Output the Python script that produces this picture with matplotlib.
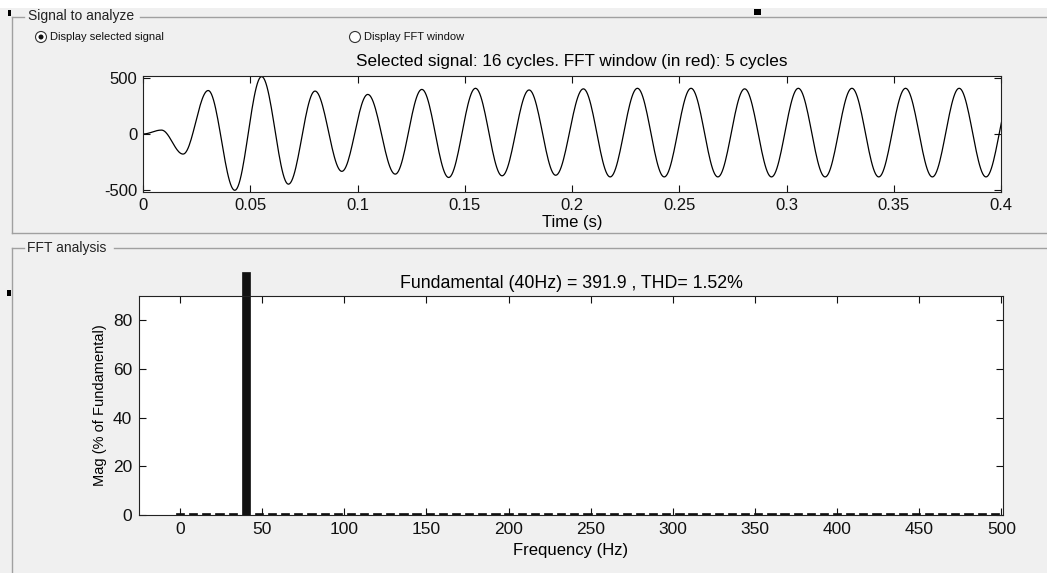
import numpy as np
import matplotlib
matplotlib.use("Agg")
import matplotlib.pyplot as plt
from matplotlib.lines import Line2D
from matplotlib.patches import Ellipse, Rectangle

plt.rcParams['font.family'] = ['Liberation Sans', 'DejaVu Sans']
plt.rcParams['axes.unicode_minus'] = False

# ---------------- data ----------------
# extrema of the selected signal (time in s, value)
sig_times = [0.0, 0.0086, 0.0187, 0.0304, 0.0428, 0.0553, 0.0678, 0.0802, 0.0927,
             0.1048, 0.1176, 0.1300, 0.1425, 0.1550, 0.1674, 0.1800, 0.1924,
             0.2053, 0.2178, 0.2305, 0.2430, 0.2555, 0.2680, 0.2805, 0.2930,
             0.3055, 0.3180, 0.3305, 0.3430, 0.3555, 0.3680, 0.3805, 0.3930, 0.4055]
sig_values = [0, 35, -180, 390, -505, 515, -450, 385, -335,
              355, -360, 400, -390, 410, -375, 395, -370,
              405, -385, 410, -385, 410, -385, 405, -385,
              410, -385, 410, -385, 410, -385, 410, -385, 410]

time_ticks = [0, 0.05, 0.1, 0.15, 0.2, 0.25, 0.3, 0.35, 0.4]
time_ticklabels = ['0', '0.05', '0.1', '0.15', '0.2', '0.25', '0.3', '0.35', '0.4']
sig_yticks = [-500, 0, 500]

# FFT spectrum (Hz, % of fundamental)
fft_freqs = [0, 8, 16, 24, 32, 40, 48, 56, 64, 72, 80, 88, 96, 104, 112, 120,
             128, 136, 144, 152, 160, 168, 176, 184, 192, 200, 208, 216, 224,
             232, 240, 248, 256, 264, 272, 280, 288, 296, 304, 312, 320, 328,
             336, 344, 352, 360, 368, 376, 384, 392, 400, 408, 416, 424, 432,
             440, 448, 456, 464, 472, 480, 488, 496]
fft_mags = [0.9, 0.9, 0.9, 0.9, 0.9, 100, 0.9, 0.9, 0.9, 0.9, 0.9, 0.9, 0.9, 0.9,
            0.9, 0.9, 0.9, 0.9, 0.9, 0.9, 0.9, 0.9, 0.9, 0.9, 0.9, 0.9, 0.9, 0.9,
            0.9, 0.9, 0.9, 0.9, 0.9, 0.9, 0.9, 0.9, 0.9, 0.9, 0.9, 0.9, 0.9, 0.9,
            0.9, 0.9, 0.9, 0.9, 0.9, 0.9, 0.9, 0.9, 0.9, 0.9, 0.9, 0.9, 0.9, 0.9,
            0.9, 0.9, 0.9, 0.9, 0.9, 0.9, 0.9]
freq_ticks = [0, 50, 100, 150, 200, 250, 300, 350, 400, 450, 500]
mag_ticks = [0, 20, 40, 60, 80]

# ---------------- figure ----------------
W, H = 1047, 573
BG = '#f0f0f0'
fig = plt.figure(figsize=(W / 100, H / 100), dpi=100, facecolor=BG)


def fx(x):
    return x / W


def fy(y):
    return 1 - y / H


def pline(xs, ys, color='#a0a0a0', lw=1.0):
    fig.add_artist(Line2D([fx(x) for x in xs], [fy(y) for y in ys],
                          transform=fig.transFigure, color=color, lw=lw))


# white band at top
fig.add_artist(Rectangle((0, fy(8)), 1, 8 / H, transform=fig.transFigure,
                         facecolor='white', edgecolor='none'))

# panel frames
pline([12, 24], [16.5, 16.5])
pline([140, 1047], [16.5, 16.5])
pline([12, 12], [16.5, 233])
pline([12, 1047], [233, 233])
pline([12, 24], [248, 248])
pline([114, 1047], [248, 248])
pline([12, 12], [248, 573])
fig.text(fx(28), fy(16), 'Signal to analyze', fontsize=10, va='center', ha='left', color='#222222')
fig.text(fx(27), fy(248), 'FFT analysis', fontsize=10, va='center', ha='left', color='#222222')

# radio buttons
for cx, lab, sel in [(41, 'Display selected signal', True), (355, 'Display FFT window', False)]:
    fig.add_artist(Ellipse((fx(cx), fy(37)), 11 / W, 11 / H, transform=fig.transFigure,
                           facecolor='white', edgecolor='#333333', lw=0.8))
    if sel:
        fig.add_artist(Ellipse((fx(cx), fy(37)), 5 / W, 5 / H, transform=fig.transFigure,
                               facecolor='#111111', edgecolor='none'))
    fig.text(fx(cx + 9), fy(37), lab, fontsize=8, va='center', ha='left', color='#111111')

# artefact marks
for (x0, y0, w, h) in [(8, 10, 3, 6), (754, 9, 7, 6), (7, 290, 4, 6)]:
    fig.add_artist(Rectangle((fx(x0), fy(y0 + h)), w / W, h / H, transform=fig.transFigure,
                             facecolor='black', edgecolor='none'))

# ---------------- top axes: signal ----------------
ax1 = fig.add_axes([fx(143), fy(192), (1001 - 143) / W, (192 - 76) / H])
ts, vs = [], []
for i in range(len(sig_times) - 1):
    s = np.linspace(0, 1, 25, endpoint=False)
    ts.extend(sig_times[i] + (sig_times[i + 1] - sig_times[i]) * s)
    vs.extend(sig_values[i] + (sig_values[i + 1] - sig_values[i]) * (1 - np.cos(np.pi * s)) / 2)
ax1.plot(ts, vs, color='black', lw=0.9)
ax1.set_xlim(0, 0.4)
ax1.set_ylim(-520, 520)
ax1.set_xticks(time_ticks)
ax1.set_xticklabels(time_ticklabels)
ax1.set_yticks(sig_yticks)
ax1.tick_params(direction='in', top=True, right=True, length=5, width=0.8,
                labelsize=12, pad=4, colors='#111111')
ax1.set_xlabel('Time (s)', fontsize=12, labelpad=2)
ax1.set_title('Selected signal: 16 cycles. FFT window (in red): 5 cycles', fontsize=12.3, pad=7)
for sp in ax1.spines.values():
    sp.set_linewidth(0.8)
    sp.set_color('#222222')

# ---------------- bottom axes: FFT ----------------
ax2 = fig.add_axes([fx(139), fy(515), (1003 - 139) / W, (515 - 296) / H])
bars = ax2.bar(fft_freqs, fft_mags, width=5, color='#111111', edgecolor='#111111', lw=0.5)
for b in bars:
    b.set_clip_on(False)
ax2.set_xlim(-25, 501)
ax2.set_ylim(0, 90)
ax2.set_xticks(freq_ticks)
ax2.set_yticks(mag_ticks)
ax2.tick_params(direction='in', top=True, right=True, length=5, width=0.8,
                labelsize=12.5, pad=5, colors='#111111')
ax2.set_xlabel('Frequency (Hz)', fontsize=12, labelpad=4)
ax2.set_ylabel('Mag (% of Fundamental)', fontsize=10.5, labelpad=4)
ax2.set_title('Fundamental (40Hz) = 391.9 , THD= 1.52%', fontsize=12.8, pad=6)
for sp in ax2.spines.values():
    sp.set_linewidth(0.8)
    sp.set_color('#222222')

fig.savefig('out.png', dpi=100, facecolor=BG)
